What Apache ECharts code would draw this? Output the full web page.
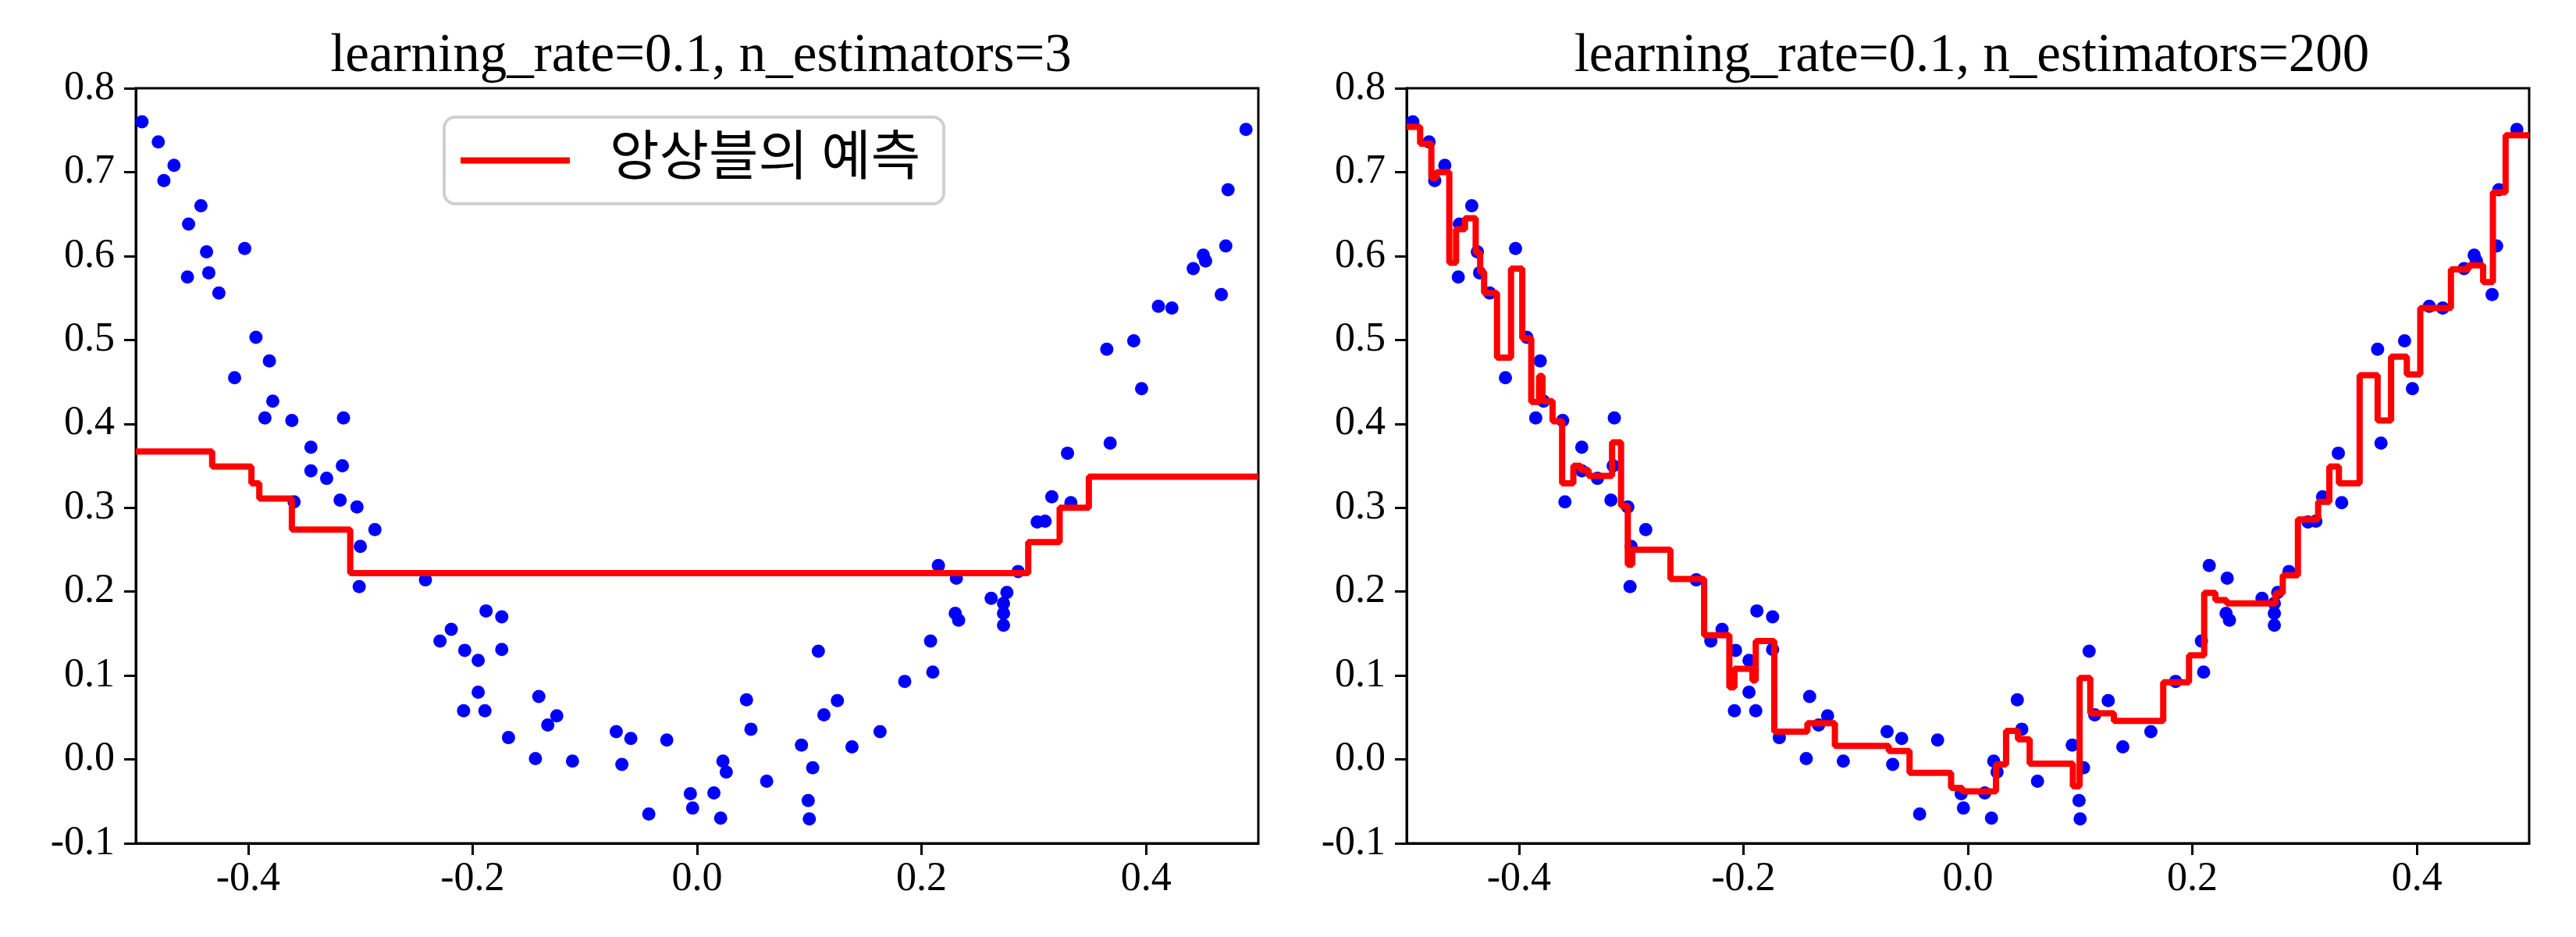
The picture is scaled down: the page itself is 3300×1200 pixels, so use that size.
<!DOCTYPE html>
<html><head><meta charset="utf-8">
<script src="https://cdn.jsdelivr.net/npm/echarts@6/dist/echarts.min.js"></script>
<style>html,body{margin:0;padding:0;background:#fff}#c{width:3300px;height:1200px}</style>
</head><body><div id="c"></div>
<script>
// ---- data ----
const scatterX = [-0.4945,-0.480,-0.466,-0.475,-0.453,-0.442,-0.454,-0.437,-0.435,-0.426,
  -0.403,-0.412,-0.393,-0.381,-0.378,-0.385,-0.361,-0.344,-0.344,-0.330,
  -0.315,-0.316,-0.359,-0.318,-0.303,-0.287,-0.300,-0.301,-0.242,-0.229,
  -0.219,-0.207,-0.195,-0.188,-0.174,-0.174,-0.195,-0.208,-0.189,-0.168,
  -0.141,-0.133,-0.125,-0.144,-0.111,-0.072,-0.059,-0.067,-0.027,-0.043,
  -0.006,-0.004,0.015,0.021,0.023,0.026,0.044,0.048,0.062,0.093,
  0.103,0.099,0.100,0.108,0.113,0.125,0.138,0.163,0.185,0.208,
  0.210,0.215,0.231,0.230,0.233,0.262,0.273,0.276,0.273,0.273,
  0.286,0.303,0.310,0.316,0.333,0.330,0.365,0.368,0.389,0.396,
  0.411,0.423,0.442,0.451,0.453,0.467,0.471,0.473,0.489];
const scatterY = [0.760,0.736,0.708,0.690,0.638,0.660,0.575,0.605,0.580,0.556,
  0.609,0.455,0.503,0.475,0.427,0.407,0.404,0.372,0.344,0.335,
  0.407,0.350,0.307,0.309,0.301,0.274,0.254,0.206,0.214,0.141,
  0.155,0.130,0.118,0.177,0.170,0.131,0.080,0.058,0.058,0.026,
  0.075,0.041,0.052,0.001,-0.002,0.033,0.025,-0.006,0.023,-0.065,
  -0.041,-0.058,-0.040,-0.070,-0.002,-0.015,0.071,0.036,-0.026,0.017,
  -0.010,-0.049,-0.071,0.129,0.053,0.070,0.015,0.033,0.093,0.141,
  0.104,0.231,0.216,0.174,0.166,0.192,0.186,0.199,0.174,0.160,
  0.224,0.283,0.284,0.313,0.306,0.365,0.489,0.377,0.499,0.442,
  0.540,0.538,0.585,0.601,0.594,0.554,0.612,0.679,0.751];

// ensemble prediction, n_estimators=3 (step start x, level)
const pred3X = [-0.5,-0.432,-0.397,-0.390,-0.361,-0.309,0.295,0.323,0.349,0.5];
const pred3Y = [0.367,0.349,0.329,0.311,0.274,0.222,0.259,0.300,0.337,0.337];

// ensemble prediction, n_estimators=200 (step start x, level)
const pred200X = [-0.5,-0.488,-0.478,-0.4735,-0.462,-0.456,-0.448,-0.4385,-0.4345,-0.431,
  -0.4195,-0.407,-0.397,-0.389,-0.382,-0.379,-0.370,-0.3615,-0.3515,-0.345,
  -0.338,-0.317,-0.309,-0.303,-0.299,-0.265,-0.235,-0.2125,-0.208,-0.192,
  -0.189,-0.1725,-0.143,-0.1185,-0.0705,-0.052,-0.015,-0.005,0.025,0.034,
  0.0445,0.055,0.0935,0.0995,0.109,0.130,0.174,0.197,0.2105,0.2205,
  0.2305,0.274,0.2805,0.294,0.312,0.322,0.3305,0.349,0.365,0.377,
  0.391,0.403,0.4303,0.446,0.459,0.4677,0.479,0.5];
const pred200Y = [0.754,0.734,0.693,0.700,0.592,0.632,0.645,0.604,0.581,0.556,
  0.479,0.585,0.502,0.426,0.457,0.427,0.403,0.329,0.350,0.345,
  0.338,0.378,0.302,0.232,0.250,0.215,0.148,0.086,0.108,0.094,
  0.141,0.033,0.043,0.016,0.010,-0.016,-0.034,-0.038,-0.006,0.034,
  0.024,-0.005,-0.032,0.097,0.055,0.046,0.092,0.124,0.1985,0.190,
  0.186,0.198,0.2195,0.286,0.307,0.349,0.329,0.458,0.404,0.480,
  0.459,0.538,0.584,0.589,0.569,0.676,0.744,0.744];

const xTicks = [-0.4,-0.2,0.0,0.2,0.4];
const yTicks = [-0.1,0.0,0.1,0.2,0.3,0.4,0.5,0.6,0.7,0.8];
const titles = ['learning_rate=0.1, n_estimators=3','learning_rate=0.1, n_estimators=200'];
const legendLabel = '앙상블의 예측';

// ---- chart ----
const FONT = "'Liberation Serif', 'Noto Sans CJK KR', serif";
const pts = scatterX.map((x,i)=>[x, scatterY[i]]);
const step = (xs, ys) => xs.map((x,i)=>[x, ys[i]]);
const grids = [
  {left:174, top:113, width:1438, height:967},
  {left:1802, top:113, width:1438, height:967}
];
const fmt = v => (Math.round(v*10)/10).toFixed(1);

function xAxis(i){
  return {type:'value', gridIndex:i, min:-0.5, max:0.5,
    axisLine:{show:true, onZero:false, lineStyle:{color:'#000', width:3}},
    axisTick:{show:true, length:15, lineStyle:{color:'#000', width:3}, customValues:xTicks},
    axisLabel:{show:true, margin:20, color:'#000', fontSize:52, fontFamily:FONT, customValues:xTicks, formatter:fmt},
    splitLine:{show:false}};
}
function yAxis(i){
  return {type:'value', gridIndex:i, min:-0.1, max:0.8,
    axisLine:{show:true, onZero:false, lineStyle:{color:'#000', width:3}},
    axisTick:{show:true, length:15, lineStyle:{color:'#000', width:3}, customValues:yTicks},
    axisLabel:{show:true, margin:27, color:'#000', fontSize:52, fontFamily:FONT, customValues:yTicks, formatter:fmt},
    splitLine:{show:false}};
}

const option = {
  animation:false,
  backgroundColor:'#fff',
  title: titles.map((t,i)=>({text:t, left:grids[i].left + grids[i].width/2, top:33, textAlign:'center',
    textStyle:{fontSize:69, fontWeight:'normal', fontFamily:FONT, color:'#000'}})),
  legend:{
    data:[{name:legendLabel, icon:'rect'}],
    left:569, top:150, itemWidth:140, itemHeight:8,
    padding:[21,30,21,21],
    borderColor:'#d0d0d0', borderWidth:4, borderRadius:14,
    backgroundColor:'rgba(255,255,255,0.8)',
    selectedMode:false,
    textStyle:{fontSize:69, fontFamily:FONT, color:'#000', padding:[0,0,0,46]}
  },
  grid: grids.map(g=>Object.assign({show:true, borderColor:'#000', borderWidth:3, backgroundColor:'transparent', outerBoundsMode:'none'}, g)),
  xAxis:[xAxis(0), xAxis(1)],
  yAxis:[yAxis(0), yAxis(1)],
  series:[
    {type:'scatter', xAxisIndex:0, yAxisIndex:0, data:pts, symbolSize:17, itemStyle:{color:'#0000ff', opacity:1}, z:2},
    {type:'scatter', xAxisIndex:1, yAxisIndex:1, data:pts, symbolSize:17, itemStyle:{color:'#0000ff', opacity:1}, z:2},
    {type:'line', name:legendLabel, xAxisIndex:0, yAxisIndex:0, data:step(pred3X,pred3Y), step:'end',
      showSymbol:false, lineStyle:{color:'#ff0000', width:8}, itemStyle:{color:'#ff0000'}, z:3},
    {type:'line', name:legendLabel, xAxisIndex:1, yAxisIndex:1, data:step(pred200X,pred200Y), step:'end',
      showSymbol:false, lineStyle:{color:'#ff0000', width:8}, itemStyle:{color:'#ff0000'}, z:3}
  ]
};
const chart = echarts.init(document.getElementById('c'), null, {renderer:'canvas'});
chart.setOption(option);
</script>
</body></html>
